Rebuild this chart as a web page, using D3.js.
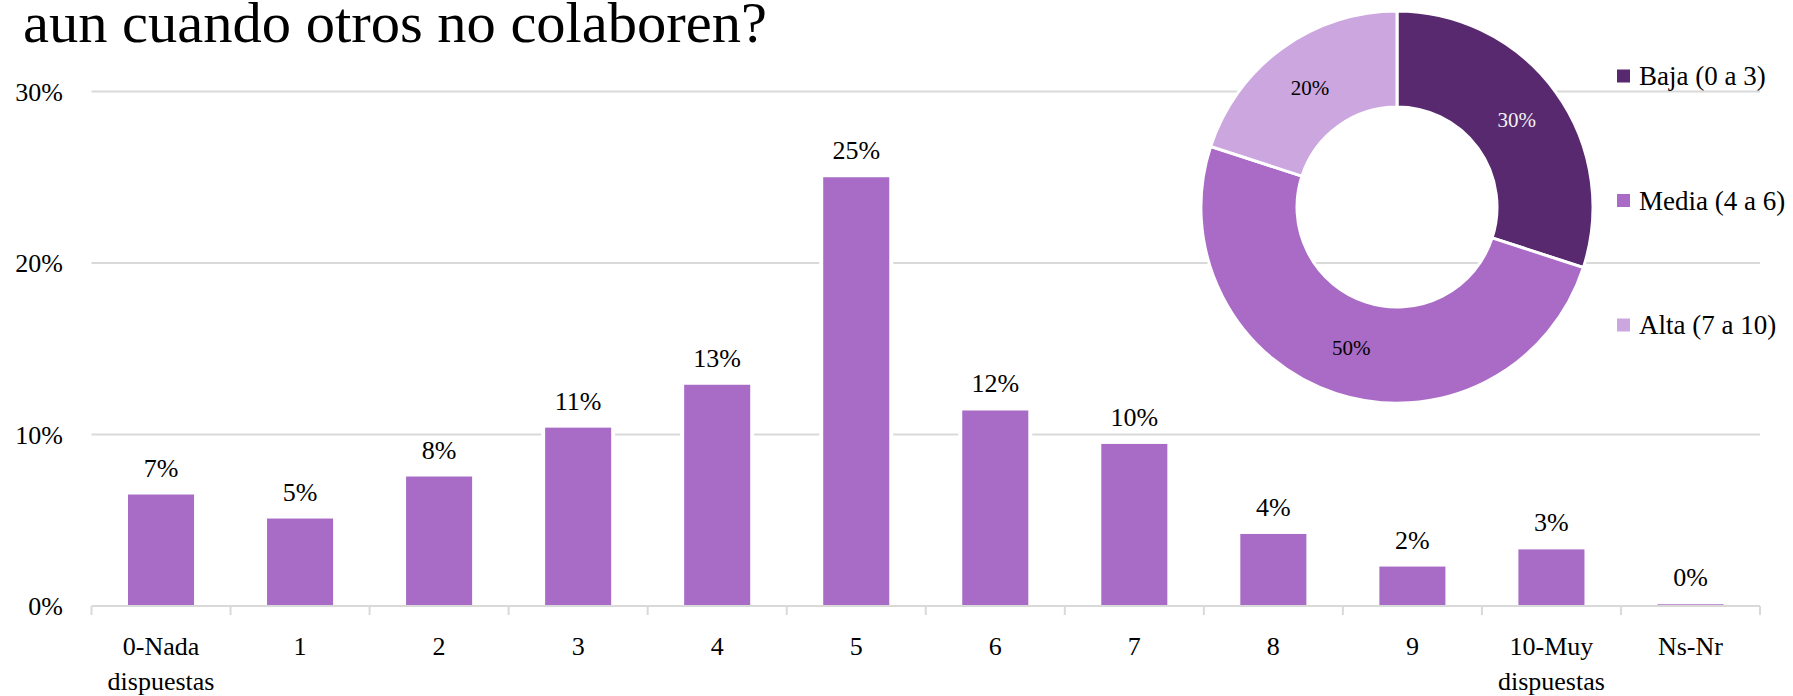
<!DOCTYPE html>
<html>
<head>
<meta charset="utf-8">
<script src="https://cdn.jsdelivr.net/npm/d3@7"></script>
<style>
  body { margin: 0; background: #fff; }
  svg { display: block; font-family: 'Liberation Serif', 'Times New Roman', serif; }
</style>
</head>
<body>
<div id="chart"></div>
<script>
const categories = ['0-Nada|dispuestas', '1', '2', '3', '4', '5', '6', '7', '8', '9', '10-Muy|dispuestas', 'Ns-Nr'];
const values = [6.5, 5.1, 7.55, 10.4, 12.9, 25.0, 11.4, 9.45, 4.2, 2.3, 3.3, 0.1];
const valueLabels = ['7%', '5%', '8%', '11%', '13%', '25%', '12%', '10%', '4%', '2%', '3%', '0%'];
const yTicks = [0, 10, 20, 30];

const groups = ['Baja (0 a 3)', 'Media (4 a 6)', 'Alta (7 a 10)'];
const groupValues = [30, 50, 20];
const groupLabels = ['30%', '50%', '20%'];
const groupColors = ['#58296e', '#a96bc6', '#cba6df'];

const title = 'aun cuando otros no colaboren?';

const width = 1793;
const height = 696;
const svg = d3.select('#chart').append('svg').attr('width', width).attr('height', height);

const x = d3.scaleBand().domain(categories).range([91.5, 1760]).paddingInner(0.525).paddingOuter(0.2625);
const y = d3.scaleLinear().domain([0, 30]).range([606, 91.5]);

// title (only its last line is visible)
svg.append('text')
  .attr('x', 23)
  .attr('y', 42)
  .attr('font-size', 56)
  .attr('textLength', 744)
  .attr('lengthAdjust', 'spacingAndGlyphs')
  .attr('fill', '#000')
  .text(title);

// gridlines + y labels
const grid = svg.append('g');
grid.selectAll('line')
  .data(yTicks.filter((d) => d > 0))
  .join('line')
  .attr('x1', 91.5)
  .attr('x2', 1760)
  .attr('y1', (d) => y(d))
  .attr('y2', (d) => y(d))
  .attr('stroke', '#d9d9d9')
  .attr('stroke-width', 2);

svg.append('g')
  .selectAll('text')
  .data(yTicks)
  .join('text')
  .attr('x', 63)
  .attr('y', (d) => y(d))
  .attr('dy', '0.35em')
  .attr('text-anchor', 'end')
  .attr('font-size', 26)
  .text((d) => `${d}%`);

// bars with a thin white halo over the gridlines
const bars = svg.append('g');
bars.selectAll('rect.halo')
  .data(values)
  .join('rect')
  .attr('class', 'halo')
  .attr('x', (d, i) => x(categories[i]) - 4)
  .attr('y', (d) => y(d) - 1)
  .attr('width', x.bandwidth() + 8)
  .attr('height', (d) => y(0) - y(d) + 1)
  .attr('fill', '#fff');

bars.selectAll('rect.bar')
  .data(values)
  .join('rect')
  .attr('class', 'bar')
  .attr('x', (d, i) => x(categories[i]))
  .attr('y', (d) => y(d))
  .attr('width', x.bandwidth())
  .attr('height', (d) => y(0) - y(d))
  .attr('fill', '#a86bc6');

bars.selectAll('text')
  .data(values)
  .join('text')
  .attr('x', (d, i) => x(categories[i]) + x.bandwidth() / 2)
  .attr('y', (d) => y(d) - 18)
  .attr('text-anchor', 'middle')
  .attr('font-size', 26)
  .text((d, i) => valueLabels[i]);

// x axis
const axis = svg.append('g');
axis.append('line')
  .attr('x1', 91.5)
  .attr('x2', 1760)
  .attr('y1', y(0))
  .attr('y2', y(0))
  .attr('stroke', '#d9d9d9')
  .attr('stroke-width', 2);

const step = x.step();
axis.selectAll('line.tick')
  .data(d3.range(categories.length + 1))
  .join('line')
  .attr('class', 'tick')
  .attr('x1', (i) => 91.5 + i * step)
  .attr('x2', (i) => 91.5 + i * step)
  .attr('y1', y(0))
  .attr('y2', y(0) + 9)
  .attr('stroke', '#d9d9d9')
  .attr('stroke-width', 2);

const catLabel = axis.selectAll('text')
  .data(categories)
  .join('text')
  .attr('x', (d) => x(d) + x.bandwidth() / 2)
  .attr('y', 655)
  .attr('text-anchor', 'middle')
  .attr('font-size', 26);

catLabel.selectAll('tspan')
  .data((d) => d.split('|').map((t) => ({ t, x: x(d) + x.bandwidth() / 2 })))
  .join('tspan')
  .attr('x', (d) => d.x)
  .attr('dy', (d, i) => (i === 0 ? 0 : 35))
  .text((d) => d.t);

// donut
const cx = 1397;
const cy = 207;
const outerRadius = 196;
const innerRadius = 100;
const pie = d3.pie().sort(null).value((d) => d);
const arc = d3.arc().innerRadius(innerRadius).outerRadius(outerRadius);
const labelArc = d3.arc().innerRadius((innerRadius + outerRadius) / 2).outerRadius((innerRadius + outerRadius) / 2);
const arcs = pie(groupValues);

const donut = svg.append('g').attr('transform', `translate(${cx},${cy})`);
donut.selectAll('path')
  .data(arcs)
  .join('path')
  .attr('d', arc)
  .attr('fill', (d, i) => groupColors[i])
  .attr('stroke', '#fff')
  .attr('stroke-width', 3);

donut.selectAll('text')
  .data(arcs)
  .join('text')
  .attr('transform', (d) => `translate(${labelArc.centroid(d)})`)
  .attr('dy', '0.35em')
  .attr('text-anchor', 'middle')
  .attr('font-size', 21)
  .attr('fill', (d, i) => (i === 0 ? '#f2f2f2' : '#000'))
  .text((d, i) => groupLabels[i]);

// legend
const legend = svg.append('g')
  .selectAll('g')
  .data(groups)
  .join('g')
  .attr('transform', (d, i) => `translate(1617,${76 + i * 124.5})`);

legend.append('rect')
  .attr('x', 0)
  .attr('y', -6.5)
  .attr('width', 13)
  .attr('height', 13)
  .attr('fill', (d, i) => groupColors[i]);

legend.append('text')
  .attr('x', 22)
  .attr('dy', '0.35em')
  .attr('font-size', 27)
  .text((d) => d);
</script>
</body>
</html>
